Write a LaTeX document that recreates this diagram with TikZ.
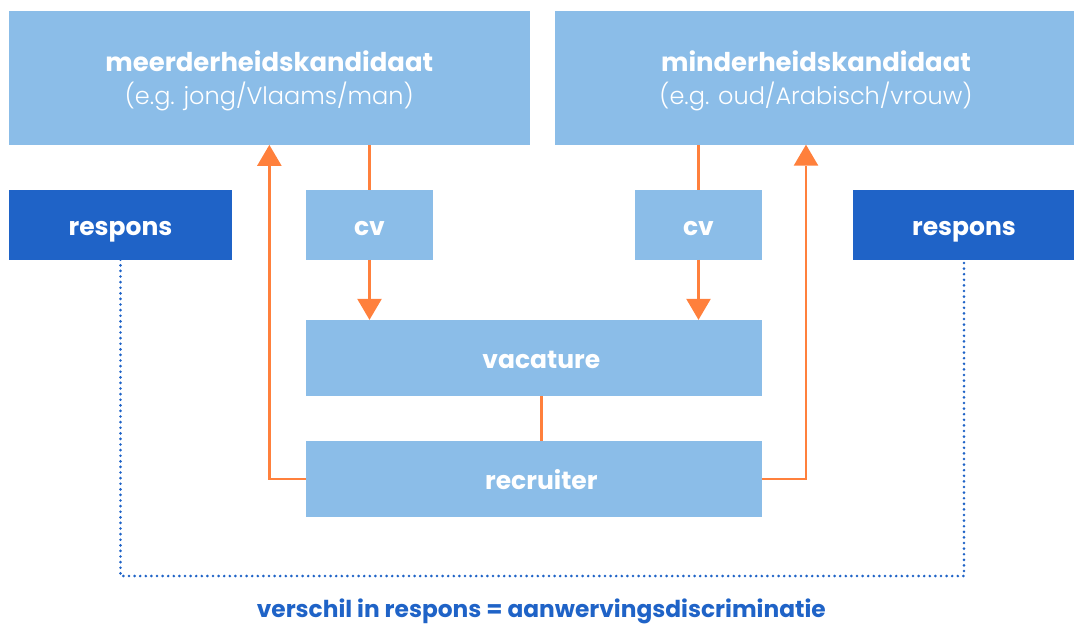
\documentclass[tikz,border=0pt]{standalone}
\usepackage{fontspec}
\setmainfont{Poppins}
\newfontfamily\lightfont{Poppins Light}
\usetikzlibrary{arrows.meta}
\definecolor{lblue}{RGB}{139,189,232}
\definecolor{dblue}{RGB}{31,99,199}
\definecolor{orng}{RGB}{255,128,60}
\begin{document}
\begin{tikzpicture}[x=1pt,y=-1pt,
 box/.style={rectangle, fill=lblue, draw=none, inner sep=0pt},
 rbox/.style={rectangle, fill=dblue, draw=none, inner sep=0pt},
 lbl/.style={anchor=base, inner sep=0pt, text=white, font=\bfseries\fontsize{25}{30}\selectfont},
 ttl/.style={lbl, font=\bfseries\fontsize{25.9}{30}\selectfont},
 sub/.style={anchor=base, inner sep=0pt, text=white, font=\lightfont\fontsize{24}{28}\selectfont},
 flow/.style={draw=orng, line width=2.7pt},
 arr/.style={flow, -{Triangle[length=21pt,width=24.7pt,line width=0pt]}},
 dotl/.style={draw=dblue, line width=2.9pt, line cap=round, dash pattern=on 0pt off 5.6pt}
]
\useasboundingbox (0,0) rectangle (1074,625);
% boxes
\node[box, minimum width=521.3pt, minimum height=133.7pt] (meer) at (269.35,77.85) {};
\node[box, minimum width=522pt, minimum height=133.7pt] (mind) at (816,77.85) {};
\node[rbox, minimum width=223pt, minimum height=69.5pt] (respL) at (120.5,224.75) {};
\node[box, minimum width=127pt, minimum height=69.5pt] (cvL) at (369.5,224.75) {};
\node[box, minimum width=127pt, minimum height=69.5pt] (cvR) at (698.5,224.75) {};
\node[rbox, minimum width=222pt, minimum height=69.5pt] (respR) at (964,224.75) {};
\node[box, minimum width=456pt, minimum height=76pt] (vac) at (534,358) {};
\node[box, minimum width=456pt, minimum height=75.7pt] (rec) at (534,478.85) {};
% texts
\node[ttl] (meerT) at (269.3,71) {meerderheidskandidaat};
\node[sub] (meerS) at (269.3,104) {(e.g. jong/Vlaams/man)};
\node[ttl] (mindT) at (816,71) {minderheidskandidaat};
\node[sub] (mindS) at (816,104) {(e.g. oud/Arabisch/vrouw)};
\node[lbl] (respLT) at (120.5,235) {respons};
\node[lbl] (cvLT) at (369.5,235) {cv};
\node[lbl] (cvRT) at (698.5,235) {cv};
\node[lbl] (respRT) at (964,235) {respons};
\node[lbl] (vacT) at (541.3,368) {vacature};
\node[lbl] (recT) at (541.3,489) {recruiter};
\node[lbl, text=dblue, font=\bfseries\fontsize{23.3}{28}\selectfont] (botT) at (541.3,617) {verschil in respons = aanwervingsdiscriminatie};
% connectors
\draw[flow] (meer.south -| cvL.north) -- (cvL.north);
\draw[arr] (cvL.south) -- (vac.north -| cvL.south);
\draw[flow] (mind.south -| cvR.north) -- (cvR.north);
\draw[arr] (cvR.south) -- (vac.north -| cvR.south);
\draw[flow] (vac.south -| vacT) -- (rec.north -| vacT);
\draw[arr] (rec.west) -| (meer.south);
\coordinate (rUp) at (806,144.7);
\draw[arr] (rec.east) -| (rUp);
\coordinate (dBase) at (541,576);
\draw[dotl] (respL.south) |- (dBase) -| (respR.south);
\end{tikzpicture}
\end{document}
